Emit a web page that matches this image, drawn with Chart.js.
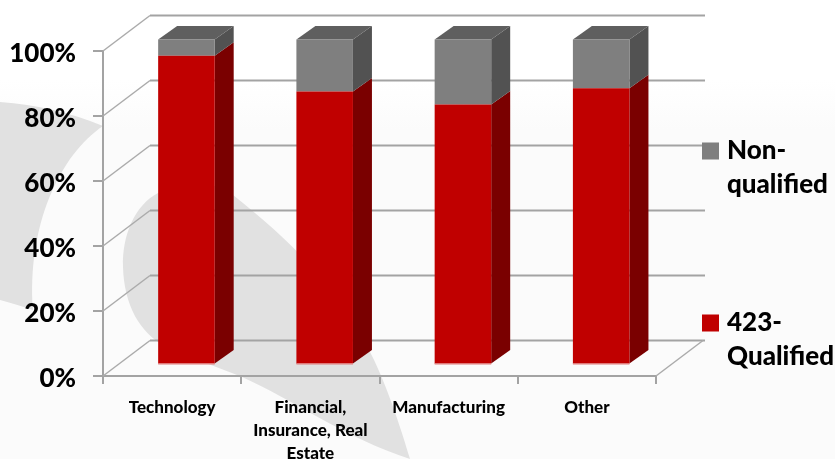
<!DOCTYPE html>
<html><head><meta charset="utf-8">
<style>html,body{margin:0;padding:0;background:#fff}canvas{display:block}</style>
<script src="https://cdn.jsdelivr.net/npm/chart.js@4"></script>
</head><body><canvas id="c" width="835" height="459"></canvas>
<script>
const categories = [["Technology"], ["Financial,", "Insurance, Real", "Estate"], ["Manufacturing"], ["Other"]];
const qualified = [95, 84, 80, 85];
const nonQualified = [5, 16, 20, 15];
const seriesNames = ["423-Qualified", "Non-qualified"];
const legendLines = [["423-", "Qualified"], ["Non-", "qualified"]];

const FONT = "Lato, Carlito, 'Open Sans', sans-serif";
const wall = {dx: 47, dy: -35.5};
const barShift = {dx: 14.3, dy: -11.5};
const barDepth = {dx: 19, dy: -13.5};

function poly(ctx, pts, fill) {
  ctx.beginPath();
  pts.forEach((p, i) => i ? ctx.lineTo(p[0], p[1]) : ctx.moveTo(p[0], p[1]));
  ctx.closePath(); ctx.fillStyle = fill; ctx.fill();
}

function nudgeLabels(scale, dy) {
  if (scale._nudged) return;
  scale._nudged = true;
  const orig = scale.drawLabels;
  scale.drawLabels = function (area) {
    const c = this.ctx;
    c.save(); c.translate(0, dy);
    orig.call(this, area);
    c.restore();
  };
}

const scene = {
  id: 'scene',
  beforeDraw(chart) {
    const c = chart.ctx;
    c.save();
    const g = c.createLinearGradient(0, 80, 0, 130);
    g.addColorStop(0, '#ffffff'); g.addColorStop(1, '#fbfbfb');
    c.fillStyle = '#fff'; c.fillRect(0, 0, 835, 459);
    c.fillStyle = g; c.fillRect(0, 80, 835, 379);
    c.fillStyle = '#e1e1e1';
    c.beginPath();
    c.moveTo(0, 102); c.quadraticCurveTo(55, 106, 103, 126);
    c.bezierCurveTo(60, 155, 27, 225, 33, 310);
    c.quadraticCurveTo(15, 304, 0, 300); c.closePath(); c.fill();
    c.beginPath();
    c.moveTo(158, 193);
    c.bezierCurveTo(135, 205, 122, 235, 123, 267);
    c.bezierCurveTo(124, 305, 140, 333, 165, 346);
    c.bezierCurveTo(190, 358, 215, 366, 242, 377);
    c.bezierCurveTo(290, 398, 345, 438, 410, 459);
    c.bezierCurveTo(400, 425, 385, 380, 368, 348);
    c.bezierCurveTo(335, 285, 290, 240, 233, 195);
    c.quadraticCurveTo(195, 170, 158, 193);
    c.closePath(); c.fill();
    c.restore();
  },
  beforeDatasetsDraw(chart) {
    const c = chart.ctx, y = chart.scales.y;
    const l = chart.chartArea.left, r = chart.chartArea.right;
    c.save();
    y.ticks.forEach(t => {
      const py = y.getPixelForValue(t.value);
      c.strokeStyle = '#ababab'; c.lineWidth = 1.5;
      c.beginPath(); c.moveTo(l, py); c.lineTo(l + wall.dx, py + wall.dy); c.stroke();
      c.strokeStyle = '#a3a3a3'; c.lineWidth = 2;
      c.beginPath(); c.moveTo(l + wall.dx, py + wall.dy); c.lineTo(r + wall.dx + 2, py + wall.dy); c.stroke();
    });
    const b = y.getPixelForValue(0);
    c.strokeStyle = '#ababab'; c.lineWidth = 1.5;
    c.beginPath(); c.moveTo(r, b); c.lineTo(r + wall.dx, b + wall.dy); c.stroke();
    c.restore();

    const sideColors = ['#7a0000', '#525252'];
    c.save();
    c.translate(barShift.dx, barShift.dy);
    chart.data.datasets.forEach((ds, di) => {
      chart.getDatasetMeta(di).data.forEach((bar, i) => {
        const p = bar.getProps(['x', 'y', 'base', 'width'], true);
        const xr = p.x + p.width / 2, xl = p.x - p.width / 2;
        poly(c, [[xr, p.y], [xr + barDepth.dx, p.y + barDepth.dy], [xr + barDepth.dx, p.base + barDepth.dy], [xr, p.base]], sideColors[di]);
        if (di === chart.data.datasets.length - 1)
          poly(c, [[xl, p.y], [xl + barDepth.dx, p.y + barDepth.dy], [xr + barDepth.dx, p.y + barDepth.dy], [xr, p.y]], '#5f5f5f');
      });
    });
    c.restore();
    c.save();
    c.translate(barShift.dx, barShift.dy);
  },
  afterDatasetsDraw(chart) {
    const c = chart.ctx;
    chart.getDatasetMeta(0).data.forEach(bar => {
      const p = bar.getProps(['x', 'base', 'width'], true);
      c.fillStyle = '#e07a7a';
      c.fillRect(p.x - p.width / 2, p.base - 0.5, p.width, 1.5);
    });
    c.restore();
  },
  afterDraw(chart) {
    const c = chart.ctx;
    c.save();
    c.font = '900 26px ' + FONT;
    c.textBaseline = 'middle';
    const rows = [{i: 1, y: 151}, {i: 0, y: 323}];
    rows.forEach(({i, y}) => {
      c.fillStyle = chart.data.datasets[i].backgroundColor;
      c.fillRect(702, y - 8.5, 17, 17);
      c.fillStyle = '#000';
      legendLines[i].forEach((t, k) => c.fillText(t, 727, y + k * 34));
    });
    c.restore();
  }
};

new Chart(document.getElementById('c'), {
  type: 'bar',
  data: {
    labels: categories,
    datasets: [
      {label: seriesNames[0], data: qualified, backgroundColor: '#C00000', clip: false, barPercentage: 0.409, categoryPercentage: 1},
      {label: seriesNames[1], data: nonQualified, backgroundColor: '#7F7F7F', clip: false, barPercentage: 0.409, categoryPercentage: 1}
    ]
  },
  plugins: [scene],
  options: {
    responsive: false,
    animation: false,
    layout: {padding: {top: 51, right: 179, left: 0, bottom: 0}},
    plugins: {legend: {display: false}, tooltip: {enabled: false}},
    scales: {
      x: {
        stacked: true,
        afterFit(s) { s.height = 83; },
        border: {color: '#a3a3a3', width: 2},
        grid: {drawOnChartArea: false, color: '#a3a3a3', lineWidth: 2, tickLength: 8},
        ticks: {color: '#000', font: {family: FONT, weight: '900', size: 17, lineHeight: 1.36}, padding: 12, maxRotation: 0, autoSkip: false}
      },
      y: {
        stacked: true, min: 0, max: 100,
        afterFit(s) { s.width = 103; nudgeLabels(s, 2.5); },
        border: {color: '#a3a3a3', width: 2},
        grid: {drawOnChartArea: false, color: '#a3a3a3', lineWidth: 2, tickLength: 10},
        ticks: {stepSize: 20, color: '#000', font: {family: FONT, weight: '900', size: 26}, padding: 17, callback: v => v + '%'}
      }
    }
  }
});
</script></body></html>
